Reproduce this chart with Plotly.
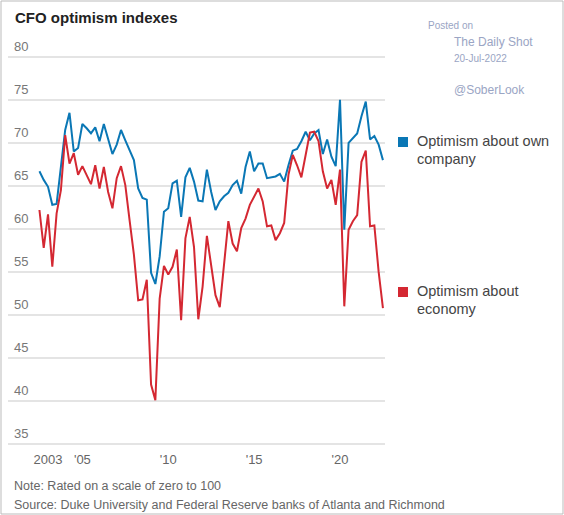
import plotly.graph_objects as go

# quarterly, starting 2002 Q3
start_year = 2002.5
own_company = [66.7, 65.7, 64.9, 62.8, 62.9, 66.9, 71.5, 73.5, 69.0, 69.4, 72.2, 71.7, 71.1, 71.8, 70.2,
               72.2, 70.3, 68.7, 69.8, 71.5, 70.3, 69.2, 68.0, 64.7, 63.6, 63.4, 54.9, 53.6, 56.8, 62.0,
               62.4, 65.3, 65.6, 61.4, 66.0, 67.1, 65.5, 63.3, 63.2, 66.9, 64.3, 62.2, 63.2, 63.8, 64.2,
               65.1, 65.6, 64.1, 67.2, 69.0, 66.7, 67.6, 67.6, 65.9, 66.0, 66.1, 66.4, 65.5, 67.4, 69.1,
               69.3, 70.2, 71.3, 70.3, 71.1, 71.5, 68.7, 70.4, 68.4, 67.3, 75.0, 59.9, 70.0, 70.5, 71.1,
               73.1, 74.8, 70.4, 70.8, 69.8, 68.0]
economy = [62.2, 57.8, 61.7, 55.6, 61.8, 64.5, 70.9, 67.6, 68.8, 66.3, 67.3, 66.3, 65.2, 67.4, 64.7,
           67.2, 64.3, 62.4, 65.9, 67.3, 65.1, 61.0, 57.0, 51.7, 51.8, 54.1, 41.9, 40.1, 51.9, 55.7,
           54.7, 55.6, 57.6, 49.4, 58.9, 61.4, 57.9, 49.5, 53.3, 59.2, 56.0, 52.3, 50.9, 55.6, 60.9,
           58.3, 57.4, 60.1, 61.2, 62.8, 63.8, 64.7, 63.2, 60.3, 60.4, 58.7, 59.5, 60.7, 66.3, 68.6,
           67.4, 66.0, 68.6, 71.2, 71.3, 70.2, 66.7, 64.7, 65.7, 62.8, 66.9, 51.0, 59.9, 60.9, 61.6,
           67.8, 69.1, 60.3, 60.4, 55.0, 50.8]
x_ticks = [2003, 2005, 2010, 2015, 2020]
x_labels = ["2003", "'05", "'10", "'15", "'20"]
y_ticks = [35, 40, 45, 50, 55, 60, 65, 70, 75, 80]

x = [start_year + i * 0.25 for i in range(len(own_company))]
blue = "#0a77b5"
red = "#d42832"

fig = go.Figure()
fig.add_trace(go.Scatter(x=x, y=own_company, mode="lines", line=dict(color=blue, width=2)))
fig.add_trace(go.Scatter(x=x, y=economy, mode="lines", line=dict(color=red, width=2)))

for v in y_ticks:
    fig.add_annotation(x=0, xref="paper", y=v, yref="y", text=str(v), showarrow=False,
                       xanchor="left", yanchor="bottom", xshift=4, yshift=1,
                       font=dict(size=13, color="#777"))

L, R, T, B = 8, 179, 50, 65
pw, ph = 564 - L - R, 515 - T - B


def px(xp):
    return (xp - L) / pw


def py(yp):
    return (515 - B - yp) / ph


fig.update_layout(
    width=564, height=515, margin=dict(l=L, r=R, t=T, b=B),
    plot_bgcolor="white", paper_bgcolor="white", showlegend=False,
    font=dict(family="Liberation Sans", color="#555"),
    xaxis=dict(range=[2000.67, 2022.62], tickvals=x_ticks, ticktext=x_labels, showgrid=False,
               zeroline=False, ticks="", tickfont=dict(size=13, color="#666")),
    yaxis=dict(range=[34.3, 80.8], tickvals=y_ticks, showticklabels=False, gridcolor="#e4e4e4",
               gridwidth=1.5, zeroline=False),
)

anns = [
    dict(x=13, y=18, text="<b>CFO optimism indexes</b>", size=15, color="#222"),
    dict(x=426, y=26, text="Posted on", size=10, color="#9aa5c4"),
    dict(x=452, y=42, text="The Daily Shot", size=12, color="#9aa5c4"),
    dict(x=452, y=59, text="20-Jul-2022", size=10, color="#9aa5c4"),
    dict(x=452, y=90, text="@SoberLook", size=12, color="#9aa5c4"),
    dict(x=415, y=141, text="Optimism about own", size=14.5, color="#444"),
    dict(x=415, y=159, text="company", size=14.5, color="#444"),
    dict(x=415, y=291, text="Optimism about", size=14.5, color="#444"),
    dict(x=415, y=309, text="economy", size=14.5, color="#444"),
    dict(x=12, y=486, text="Note: Rated on a scale of zero to 100", size=12.5, color="#666"),
    dict(x=12, y=505, text="Source: Duke University and Federal Reserve banks of Atlanta and Richmond", size=12.5, color="#666"),
]
for a in anns:
    fig.add_annotation(x=px(a["x"]), y=py(a["y"]), xref="paper", yref="paper",
                       xanchor="left", yanchor="middle", showarrow=False, text=a["text"],
                       font=dict(size=a["size"], color=a["color"]))

# legend squares
fig.add_shape(type="rect", xref="paper", yref="paper", x0=px(398), x1=px(408),
              y0=py(147), y1=py(137), fillcolor=blue, line_width=0)
fig.add_shape(type="rect", xref="paper", yref="paper", x0=px(398), x1=px(408),
              y0=py(297), y1=py(287), fillcolor=red, line_width=0)
# outer border
fig.add_shape(type="rect", xref="paper", yref="paper", x0=px(1), x1=px(563),
              y0=py(514), y1=py(1), line=dict(color="#bbb", width=1))

# drop the page's default body margin so the figure sits at the window's corner
fig.write_html("out.html", config={"displayModeBar": False},
               post_script="document.body.style.margin='0';")
